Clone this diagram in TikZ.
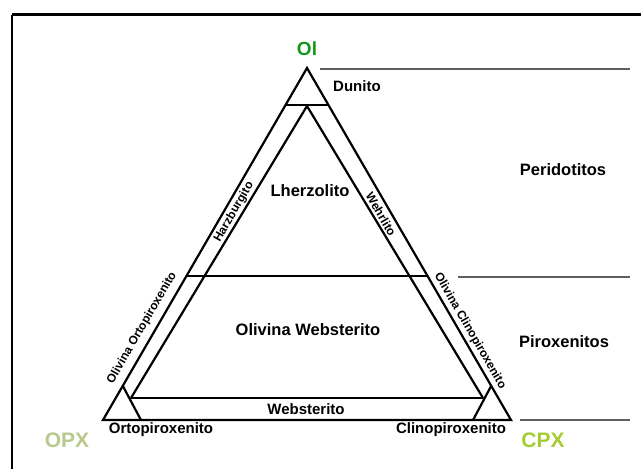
\documentclass[tikz,border=0pt]{standalone}
\usepackage{fontspec}
\setmainfont{Liberation Sans}
\usetikzlibrary{calc}
\definecolor{olgreen}{RGB}{20,150,30}
\definecolor{opxcol}{RGB}{185,200,140}
\definecolor{cpxcol}{RGB}{165,205,50}
\definecolor{sepgray}{RGB}{95,95,95}
\begin{document}
\begin{tikzpicture}[x=1pt,y=-1pt,
  edge/.style={line width=2.2pt},
  sepline/.style={line width=2pt, draw=sepgray},
  biglab/.style={font=\bfseries\fontsize{16.5}{18}\selectfont, inner sep=0pt},
  midlab/.style={font=\bfseries\fontsize{15}{17}\selectfont, inner sep=0pt},
  rotlab/.style={font=\bfseries\fontsize{12}{14}\selectfont, inner sep=0pt},
  corner/.style={font=\bfseries\fontsize{21}{23}\selectfont, inner sep=0pt}
]
\useasboundingbox (0,0) rectangle (641,469);
\fill[white] (0,0) rectangle (641,469);
% frame
\coordinate (fTL) at (12,14.5);
\coordinate (fTR) at (641,14.5);
\coordinate (fBL) at (12,469);
\draw[line width=3pt] (fTL) -- (fTR);
\draw[line width=2pt] (fTL) -- (fBL);
% vertices
\coordinate (Ol) at (307,68);
\coordinate (OPX) at (103,420);
\coordinate (CPX) at (511,420);
\coordinate (IA) at (307,106);
\coordinate (IL) at (131,398);
\coordinate (IR) at (483,398);
\coordinate (DL) at ($(OPX)!0.895!(Ol)$);
\coordinate (DR) at ($(CPX)!0.895!(Ol)$);
\coordinate (ML) at ($(OPX)!0.41!(Ol)$);
\coordinate (MR) at ($(CPX)!0.41!(Ol)$);
\coordinate (SL1) at ($(OPX)!0.097!(Ol)$);
\coordinate (SL2) at ($(OPX)!0.093!(CPX)$);
\coordinate (SR1) at ($(CPX)!0.097!(Ol)$);
\coordinate (SR2) at ($(CPX)!0.093!(OPX)$);
% triangle
\draw[edge] (Ol) -- (OPX) -- (CPX) -- cycle;
\draw[edge] (IL) -- (IA) -- (IR);
\draw[edge] (IL) -- (IR);
\draw[edge] (DL) -- (DR);
\draw[edge] (ML) -- (MR);
\draw[edge] (SL1) -- (SL2);
\draw[edge] (SR1) -- (SR2);
% separators
\coordinate (s1a) at (320,69);
\coordinate (s1b) at (630,69);
\coordinate (s2a) at (458,277);
\coordinate (s2b) at (630,277);
\coordinate (s3a) at (520,420);
\coordinate (s3b) at (630,420);
\draw[sepline] (s1a) -- (s1b);
\draw[sepline] (s2a) -- (s2b);
\draw[sepline] (s3a) -- (s3b);
% corner labels
\node[corner, text=olgreen, font=\bfseries\fontsize{19}{21}\selectfont] (lOl) at (307,49) {Ol};
\node[corner, text=opxcol] (lOPX) at (67,440) {OPX};
\node[corner, text=cpxcol] (lCPX) at (543,440) {CPX};
% field labels
\node[midlab, anchor=west] (lDun) at (333,86) {Dunito};
\node[biglab] (lPer) at (563,170) {Peridotitos};
\node[biglab] (lPir) at (564,342) {Piroxenitos};
\node[biglab] (lLhz) at (310,191) {Lherzolito};
\node[biglab] (lOWeb) at (308,330) {Olivina Websterito};
\node[midlab] (lWeb) at (306,409) {Websterito};
\node[midlab] (lOrto) at (161,430) {Ortopiroxenito};
\node[midlab] (lClino) at (451,430) {Clinopiroxenito};
\node[rotlab, rotate=59.9] (lHarz) at (234,212) {Harzburgito};
\node[rotlab, rotate=-59.9] (lWeh) at (381,214) {Wehrlito};
\node[rotlab, rotate=59.9] (lOlOrto) at (142,328) {Olivina Ortopiroxenito};
\node[rotlab, rotate=-59.9] (lOlClino) at (470,331) {Olivina Clinopiroxenito};
\end{tikzpicture}
\end{document}
